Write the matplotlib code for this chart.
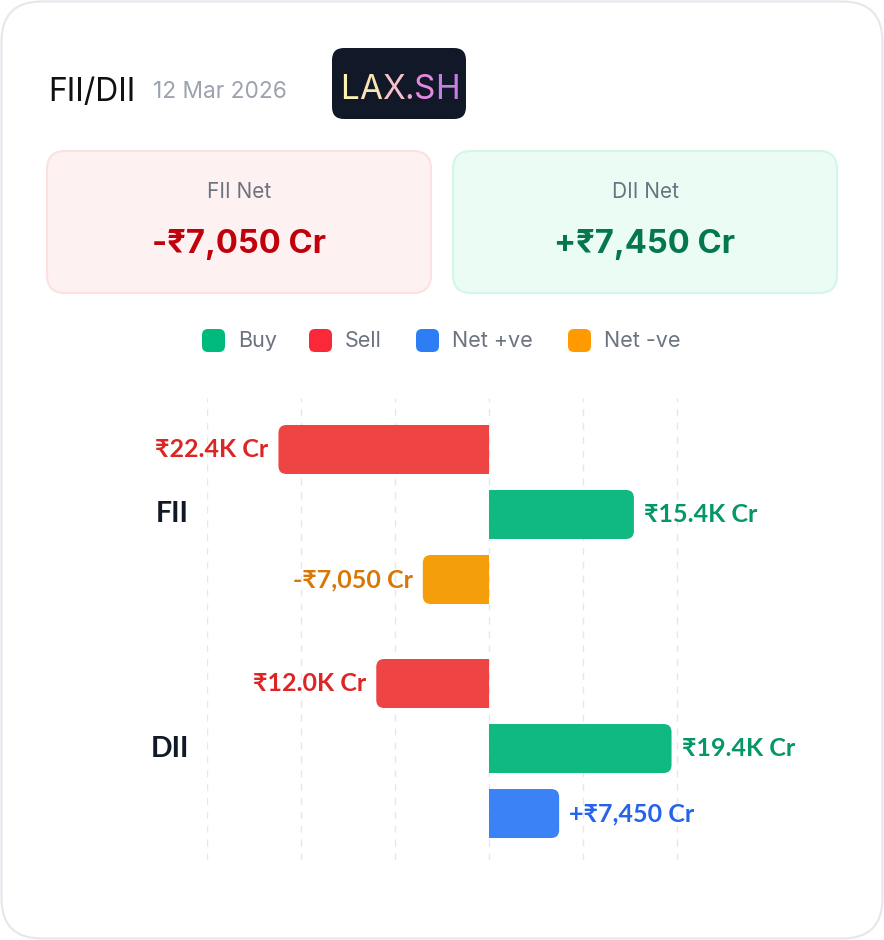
import matplotlib
matplotlib.use("Agg")
from matplotlib import pyplot as plt
from matplotlib.patches import FancyBboxPatch, Rectangle
from matplotlib.transforms import blended_transform_factory
import numpy as np

# values in thousand crore
groups = ["FII", "DII"]
sell = [22.4, 12.0]
buy = [15.4, 19.4]
net = [-7.05, 7.45]
date_text = "12 Mar 2026"
legend_names = ["Buy", "Sell", "Net +ve", "Net -ve"]

W, H = 884, 940
SANS = ["Inter", "DejaVu Sans"]
LBL = ["Lato", "DejaVu Sans"]

fig = plt.figure(figsize=(W / 100, H / 100), dpi=100)
fig.patch.set_facecolor("white")

# overlay in pixel coords
ov = fig.add_axes([0, 0, 1, 1])
ov.set_xlim(0, W)
ov.set_ylim(H, 0)
ov.axis("off")
ov.set_zorder(0)

ov.add_patch(FancyBboxPatch((1.5, 1.5), W - 3, H - 3, boxstyle="round,pad=0,rounding_size=40",
                            fc="white", ec="#e5e7eb", lw=1.5))

# header
ov.text(48, 101, "FII/DII", fontsize=23, family=SANS, color="#111111", va="baseline")
ov.text(153, 98, date_text, fontsize=16.3, family=SANS, color="#9ca3af", va="baseline")
ov.add_patch(FancyBboxPatch((332, 48), 134, 71, boxstyle="round,pad=0,rounding_size=12",
                            fc="#111827", ec="none"))
badge_cols = ["#fdf3b0", "#fbe3b5", "#f6c2c8", "#efa8d5", "#e48ade", "#c77ce6"]
prev = ov.text(340, 99, "L", fontsize=24, family=SANS, color=badge_cols[0], va="baseline")
for ch, c in zip("AX.SH", badge_cols[1:]):
    prev = ov.annotate(ch, xy=(1, 0), xycoords=prev, ha="left", va="bottom",
                       fontsize=24, family=SANS, color=c)

# summary cards
cards = [
    (47, "FII Net", net[0], "#fef1f1", "#fde0e0", "#c0000b"),
    (453, "DII Net", net[1], "#ebfcf4", "#d3f7e6", "#04774f"),
]
for x0, title, v, fc, ec, vc in cards:
    ov.add_patch(FancyBboxPatch((x0, 151), 384, 142, boxstyle="round,pad=0,rounding_size=18",
                                fc=fc, ec=ec, lw=1.5))
    ov.text(x0 + 192, 192, title, fontsize=15, family=SANS, color="#6b7280", ha="center", va="center")
    sign = "+" if v > 0 else "-"
    ov.text(x0 + 192, 244, f"{sign}₹{abs(v) * 1000:,.0f} Cr", fontsize=23.5, family=SANS,
            weight="bold", color=vc, ha="center", va="center")

# legend
leg_cols = ["#00b97d", "#fa2838", "#2d7df5", "#ff9b00"]
sq_x = [202, 309, 416, 568]
for name, c, sx in zip(legend_names, leg_cols, sq_x):
    ov.add_patch(FancyBboxPatch((sx, 329), 23, 23, boxstyle="round,pad=0,rounding_size=6",
                                fc=c, ec="none"))
    ov.text(sx + 36, 341, name, fontsize=15.5, family=SANS, color="#6b7280", va="center")

# chart
L, R, T, B = 207, 743, 398, 860
ax = fig.add_axes([L / W, 1 - B / H, (R - L) / W, (B - T) / H])
ax.set_zorder(1)
ax.patch.set_alpha(0)
xlim = (-30, 27)
ylim = (6.315, -0.792)
ax.set_xlim(*xlim)
ax.set_ylim(*ylim)
for s in ax.spines.values():
    s.set_visible(False)
ax.set_xticks([])
ax.set_yticks([])
for g in range(-30, 30, 10):
    ax.axvline(g, color="#e5e7eb", lw=1, ls=(0, (5, 5)), zorder=0)

ux = (xlim[1] - xlim[0]) / (R - L)
uy = (ylim[0] - ylim[1]) / (B - T)
aspect = uy / ux
rad = 8 * ux
bh = 49 * uy

base = np.array([0, 3.6])
series = [
    (sell, base, lambda v: -v, "#ef4444", "#dc2626", lambda v: f"₹{v:.1f}K Cr"),
    (buy, base + 1, lambda v: v, "#10b981", "#059669", lambda v: f"₹{v:.1f}K Cr"),
]
net_col = ["#3b82f6" if v > 0 else "#f59e0b" for v in net]
net_txt = ["#2563eb" if v > 0 else "#d97706" for v in net]


def round_bar(rect, color):
    x0, y0, w, h = rect.get_x(), rect.get_y(), rect.get_width(), rect.get_height()
    rect.remove()
    xl, wl = (x0, w) if w >= 0 else (x0 + w, -w)
    ax.add_patch(FancyBboxPatch((xl, y0), wl, h, boxstyle=f"round,pad=0,rounding_size={rad}",
                                mutation_aspect=aspect, fc=color, ec="none", zorder=2))
    # keep the end at zero square
    if w >= 0:
        ax.add_patch(Rectangle((0, y0), wl / 2, h, fc=color, ec="none", zorder=2))
    else:
        ax.add_patch(Rectangle((-wl / 2, y0), wl / 2, h, fc=color, ec="none", zorder=2))


def value_label(v, y, text, color):
    off = 10 * ux
    ax.text(v + off if v > 0 else v - off, y, text, ha="left" if v > 0 else "right", va="center",
            fontsize=18, weight="bold", family=LBL, color=color)


for vals, pos, fn, bc, tc, fmt in series:
    xs = [fn(v) for v in vals]
    bars = ax.barh(pos, xs, height=bh, color=bc)
    for rect, x, v, y in zip(list(bars), xs, vals, pos):
        round_bar(rect, bc)
        value_label(x, y, fmt(v), tc)

bars = ax.barh(base + 2, net, height=bh, color=net_col)
for rect, v, y, bc, tc in zip(list(bars), net, base + 2, net_col, net_txt):
    round_bar(rect, bc)
    sign = "+" if v > 0 else "-"
    value_label(v, y, f"{sign}₹{abs(v) * 1000:,.0f} Cr", tc)

tr = blended_transform_factory(ov.transData, ax.transData)
for g, y in zip(groups, base + 1):
    ov.text(189, y, g, transform=tr, ha="right", va="center", fontsize=20.5,
            weight="bold", family=LBL, color="#111827")

fig.savefig("out.png", dpi=100, facecolor="white")
